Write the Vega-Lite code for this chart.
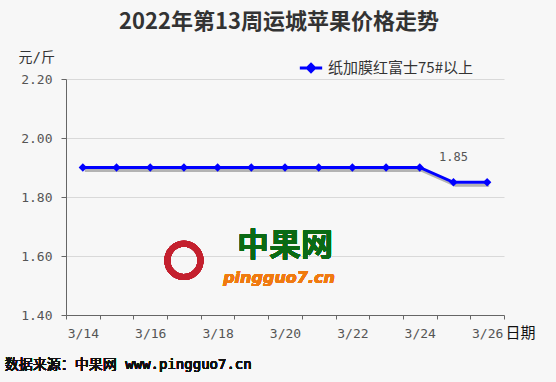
{
  "$schema": "https://vega.github.io/schema/vega-lite/v6.json",
  "autosize": {"type": "none"},
  "padding": {"left": 66, "top": 79, "right": 52, "bottom": 67},
  "width": 438,
  "height": 236,
  "background": "#f7f7f7",
  "title": {
    "text": "2022年第13周运城苹果价格走势",
    "font": "Noto Sans CJK SC",
    "fontSize": 22,
    "fontWeight": "bold",
    "color": "#333333",
    "anchor": "middle",
    "dx": -6,
    "offset": 16
  },
  "config": {
    "view": {"stroke": null},
    "axis": {"labelFont": "DejaVu Sans Mono", "labelColor": "#555555", "labelFontSize": 13, "domainColor": "#666666", "tickColor": "#666666"}
  },
  "data": {
    "values": [
      {"date": "3/14", "price": 1.90, "series": "纸加膜红富士75#以上"},
      {"date": "3/15", "price": 1.90, "series": "纸加膜红富士75#以上"},
      {"date": "3/16", "price": 1.90, "series": "纸加膜红富士75#以上"},
      {"date": "3/17", "price": 1.90, "series": "纸加膜红富士75#以上"},
      {"date": "3/18", "price": 1.90, "series": "纸加膜红富士75#以上"},
      {"date": "3/19", "price": 1.90, "series": "纸加膜红富士75#以上"},
      {"date": "3/20", "price": 1.90, "series": "纸加膜红富士75#以上"},
      {"date": "3/21", "price": 1.90, "series": "纸加膜红富士75#以上"},
      {"date": "3/22", "price": 1.90, "series": "纸加膜红富士75#以上"},
      {"date": "3/23", "price": 1.90, "series": "纸加膜红富士75#以上"},
      {"date": "3/24", "price": 1.90, "series": "纸加膜红富士75#以上"},
      {"date": "3/25", "price": 1.85, "series": "纸加膜红富士75#以上"},
      {"date": "3/26", "price": 1.85, "series": "纸加膜红富士75#以上"}
    ]
  },
  "encoding": {
    "x": {
      "field": "date",
      "type": "ordinal",
      "sort": null,
      "scale": {"type": "band", "paddingInner": 0, "paddingOuter": 0, "domain": ["3/14","3/15","3/16","3/17","3/18","3/19","3/20","3/21","3/22","3/23","3/24","3/25","3/26"]},
      "axis": {
        "title": "日期",
        "titleFont": "Noto Sans CJK SC",
        "titleFontSize": 15,
        "titleFontWeight": "normal",
        "titleColor": "#111111",
        "titleAngle": 0,
        "titleAlign": "left",
        "titleBaseline": "middle",
        "titleX": 439,
        "titleY": 17,
        "labelAngle": 0,
        "labelExpr": "indexof(['3/14','3/16','3/18','3/20','3/22','3/24','3/26'], datum.value) >= 0 ? datum.value : ''",
        "tickBand": "extent",
        "tickSize": 4,
        "labelPadding": 8,
        "grid": false
      }
    },
    "y": {
      "field": "price",
      "type": "quantitative",
      "scale": {"domain": [1.4, 2.2]},
      "axis": {
        "title": "元/斤",
        "titleFont": "DejaVu Sans Mono, Noto Sans CJK SC",
        "titleFontSize": 14,
        "titleFontWeight": "normal",
        "titleColor": "#333333",
        "titleAngle": 0,
        "titleAlign": "left",
        "titleBaseline": "middle",
        "titleX": -48,
        "titleY": -22,
        "values": [1.4, 1.6, 1.8, 2.0, 2.2],
        "format": ".2f",
        "tickSize": 5,
        "labelPadding": 9,
        "grid": true,
        "gridColor": "#d9d9d9"
      }
    }
  },
  "layer": [
    {
      "mark": {"type": "text", "text": "中果网", "font": "Noto Sans CJK SC", "fontSize": 32, "fontWeight": "bold", "color": "#0a6a14", "opacity": 0.95},
      "encoding": {"x": {"datum": "3/20"}, "y": {"datum": 1.634}}
    },
    {
      "mark": {"type": "text", "text": "pingguo7.cn", "font": "DejaVu Sans", "fontSize": 16, "fontWeight": "bold", "fontStyle": "italic", "color": "#f07a10", "dx": -6},
      "encoding": {"x": {"datum": "3/20"}, "y": {"datum": 1.525}}
    },
    {
      "mark": {"type": "point", "shape": "circle", "filled": false, "stroke": "#c4202e", "strokeWidth": 6, "size": 1100},
      "encoding": {"x": {"datum": "3/17"}, "y": {"datum": 1.585}}
    },
    {
      "mark": {"type": "line", "color": "#333333", "opacity": 0.35, "strokeWidth": 3, "xOffset": 2, "yOffset": 3}
    },
    {
      "mark": {"type": "line", "strokeWidth": 3, "point": {"shape": "diamond", "size": 70, "filled": true}},
      "encoding": {
        "color": {
          "field": "series",
          "type": "nominal",
          "scale": {"range": ["#0000ff"]},
          "legend": {
            "title": null,
            "orient": "none",
            "legendX": 232,
            "legendY": -24,
            "symbolType": "M-1,0L1,0M0,-0.32L0.32,0L0,0.32L-0.32,0Z",
            "symbolSize": 500,
            "symbolStrokeWidth": 3,
            "symbolFillColor": "#0000ff",
            "labelFont": "Noto Sans CJK SC",
            "labelFontSize": 15,
            "labelColor": "#333333",
            "labelFontWeight": "normal"
          }
        }
      }
    },
    {
      "transform": [{"filter": "datum.date === '3/25'"}],
      "mark": {"type": "text", "dy": -25, "font": "DejaVu Sans Mono", "fontSize": 12, "color": "#555555"},
      "encoding": {"text": {"field": "price", "type": "quantitative", "format": ".2f"}}
    },
    {
      "mark": {"type": "text", "text": "数据来源：中果网 www.pingguo7.cn", "font": "DejaVu Sans Mono, Noto Sans CJK SC", "fontSize": 14, "fontWeight": "normal", "color": "#111111", "align": "left", "dx": -78, "dy": 50},
      "encoding": {"x": {"datum": "3/14"}, "y": {"datum": 1.4}}
    }
  ]
}
